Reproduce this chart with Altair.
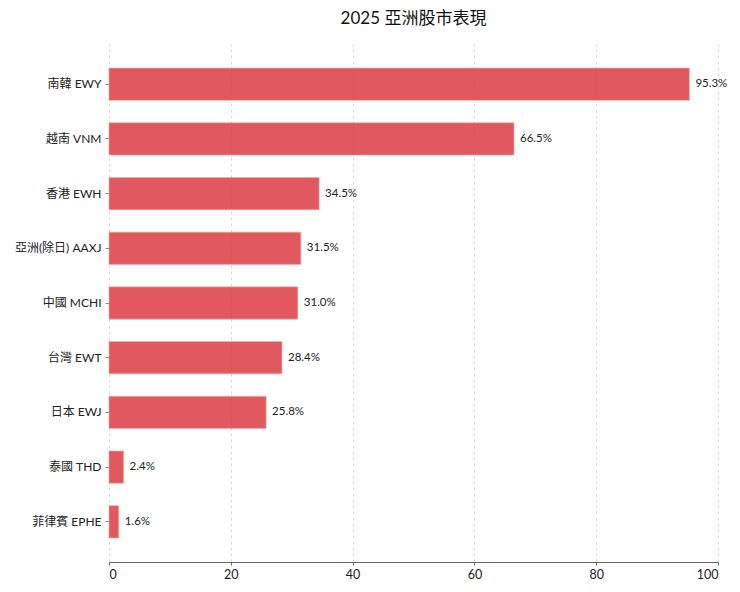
import altair as alt
import pandas as pd

markets = ["南韓 EWY", "越南 VNM", "香港 EWH", "亞洲(除日) AAXJ", "中國 MCHI",
           "台灣 EWT", "日本 EWJ", "泰國 THD", "菲律賓 EPHE"]
returns = [95.3, 66.5, 34.5, 31.5, 31.0, 28.4, 25.8, 2.4, 1.6]
x_ticks = [0, 20, 40, 60, 80, 100]

df = pd.DataFrame({"market": markets, "ret": returns})
df["label"] = [f"{v:.1f}%" for v in returns]

FONT = "Lato, 'Noto Sans CJK TC', sans-serif"

base = alt.Chart(df).encode(
    y=alt.Y("market:N", sort=markets,
            scale=alt.Scale(paddingInner=0.41, paddingOuter=0.44),
            axis=alt.Axis(title=None, domain=False, ticks=True, tickColor="#888",
                          tickSize=4, labelPadding=4, labelFontSize=12,
                          labelColor="#222", minExtent=101, maxExtent=101)),
)

bars = base.mark_bar(color="#dc3d42", opacity=0.85, stroke="#f0a0a0",
                     strokeWidth=0.6).encode(
    x=alt.X("ret:Q", scale=alt.Scale(domain=[0, 100], nice=False),
            axis=alt.Axis(title=None, values=x_ticks, grid=True, gridDash=[3, 3],
                          gridColor="#d8d8d8", domainColor="#666", domainWidth=1.2,
                          tickColor="#666", tickSize=3, labelFontSize=12.5,
                          labelColor="#222", labelPadding=3)),
)

text = base.mark_text(align="left", dx=6, fontSize=11.5, color="#222", font=FONT).encode(
    x="ret:Q", text="label:N"
)

chart = (bars + text).properties(
    width=724, height=576,
    autosize=alt.AutoSizeParams(type="fit", contains="padding"),
    title=alt.TitleParams("2025 亞洲股市表現", fontSize=17, fontWeight="normal",
                          color="#111", offset=16, anchor="middle"),
    padding={"left": 0, "top": 2, "right": 10, "bottom": 3},
).configure(font=FONT).configure_view(stroke=None)

chart.save("out.html", embed_options={"renderer": "svg", "actions": False})
